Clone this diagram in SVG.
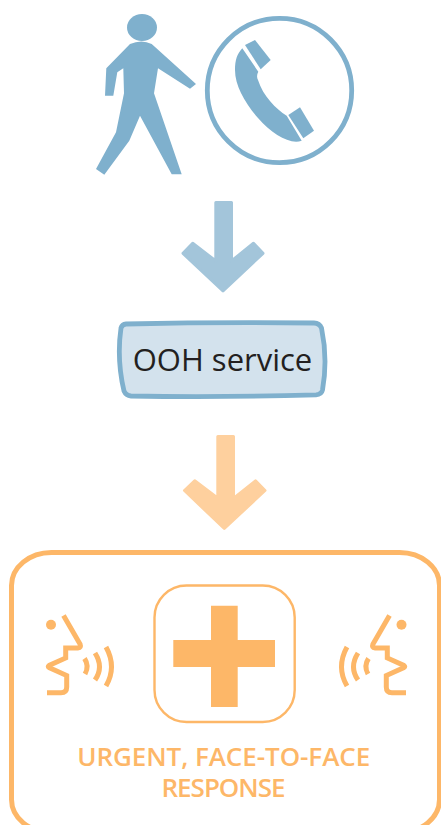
<svg xmlns="http://www.w3.org/2000/svg" width="441" height="825" viewBox="0 0 441 825">
<style>
.blue{fill:#7fb0cd}
.orange{fill:#fdb768}
.line{fill:none;stroke:#fdb768;stroke-width:5}
.arrow{stroke-width:3;stroke-linejoin:round}
text{font-family:"Open Sans","Noto Sans","Liberation Sans",sans-serif;text-anchor:middle}
.label{font-size:26px;font-weight:600;fill:#fdb768}
</style>
<rect width="441" height="825" fill="#fff"/>
<g id="person" class="blue">
<ellipse cx="142" cy="27.500" rx="15" ry="13.500"/>
<path d="M130 44Q141.700 39 151.700 44L196 84L190 88.700L158 68.300L154 93.300L181.700 174.300H171.700L140 115.700L129.300 140.700L104.300 174.700L96 169L116 132.300L124 93.300L123.300 68.300L117.300 72.300L113.300 95.700H105L106.300 68.300Z"/>
</g>
<g id="phone">
<circle cx="279.500" cy="90.500" r="72.200" fill="none" stroke="#7fb0cd" stroke-width="4.800"/>
<path class="blue" d="M242.300 48.300L258.300 71.700Q256 76 258 80C263 96 276 109 286.700 115.700L301.700 140.700C290 145 272 134 258 118C245 103 235 86 235 70C235 60 237 54 242.300 48.300Z"/>
<path class="blue" d="M245 45L255 40L270.700 60L260.700 69.300Z"/>
<path class="blue" d="M288.300 115L300 107.300L314 130.700L303.300 138.300Z"/>
</g>
<g id="connectors">
<path class="arrow" fill="#a3c5da" stroke="#a3c5da" d="M215.800 202.500H231.500V261L253.500 243.200L263 253.300L223 291L183 253.300L192.700 243.200L215.800 261Z"/>
<path class="arrow" fill="#fed09e" stroke="#fed09e" d="M217.800 436.500H233.500V498.300L255.500 480.800L265 490.500L224.300 528.500L184.500 490.500L194.700 480.800L217.800 498.300Z"/>
</g>
<g id="ooh-service">
<path fill="#d3e2ed" stroke="#7fb0cd" stroke-width="4.800" d="M126 324Q222 321.800 314 323Q319.500 323.200 321.500 328Q328 359 322.500 390Q321.500 394.500 316 394.800Q222 397.500 131 396Q126 395.500 124 391Q116.500 359 121 328Q122 324.300 126 324Z"/>
<text x="222.500" y="371" font-size="31" fill="#231f20">OOH service</text>
</g>
<g id="response">
<rect x="11.500" y="552.500" width="428" height="280" rx="40" ry="33" fill="none" stroke="#fdb768" stroke-width="5"/>
<rect x="154.500" y="585.500" width="140.200" height="136.500" rx="32" fill="none" stroke="#fdb768" stroke-width="2.400"/>
<path class="orange" d="M211 605.700H237.700V640H275V667H237.700V707H211V667H173.300V640H211Z"/>
<g id="speaker-left">
<circle class="orange" cx="51" cy="624.700" r="5"/>
<path class="line" d="M63.500 615.500L80 644Q81.500 648 78 648H65.700V658L49 665.500Q47.500 666.500 49 667.500L66.700 675.500V687Q66.700 692.700 61 692.700H47"/>
<path class="line" d="M84.500 658.500Q89.500 666 85 674"/>
<path class="line" d="M95 653Q104 667 95 680"/>
<path class="line" d="M106 647Q117 667 106 686"/>
</g>
<g id="speaker-right">
<circle class="orange" cx="401.500" cy="624.700" r="5"/>
<path class="line" d="M389.500 615.500L373 644Q371.500 648 375 648H387.300V658L404 665.500Q405.500 666.500 404 667.500L386.300 675.500V687Q386.300 692.700 392 692.700H406"/>
<path class="line" d="M368.500 658.500Q363.500 666 368 674"/>
<path class="line" d="M358 653Q349 667 358 680"/>
<path class="line" d="M347 647Q336 667 347 686"/>
</g>
<text class="label" x="223.700" y="766" textLength="293">URGENT, FACE-TO-FACE</text>
<text class="label" x="223.500" y="797.300" textLength="124">RESPONSE</text>
</g>
</svg>
